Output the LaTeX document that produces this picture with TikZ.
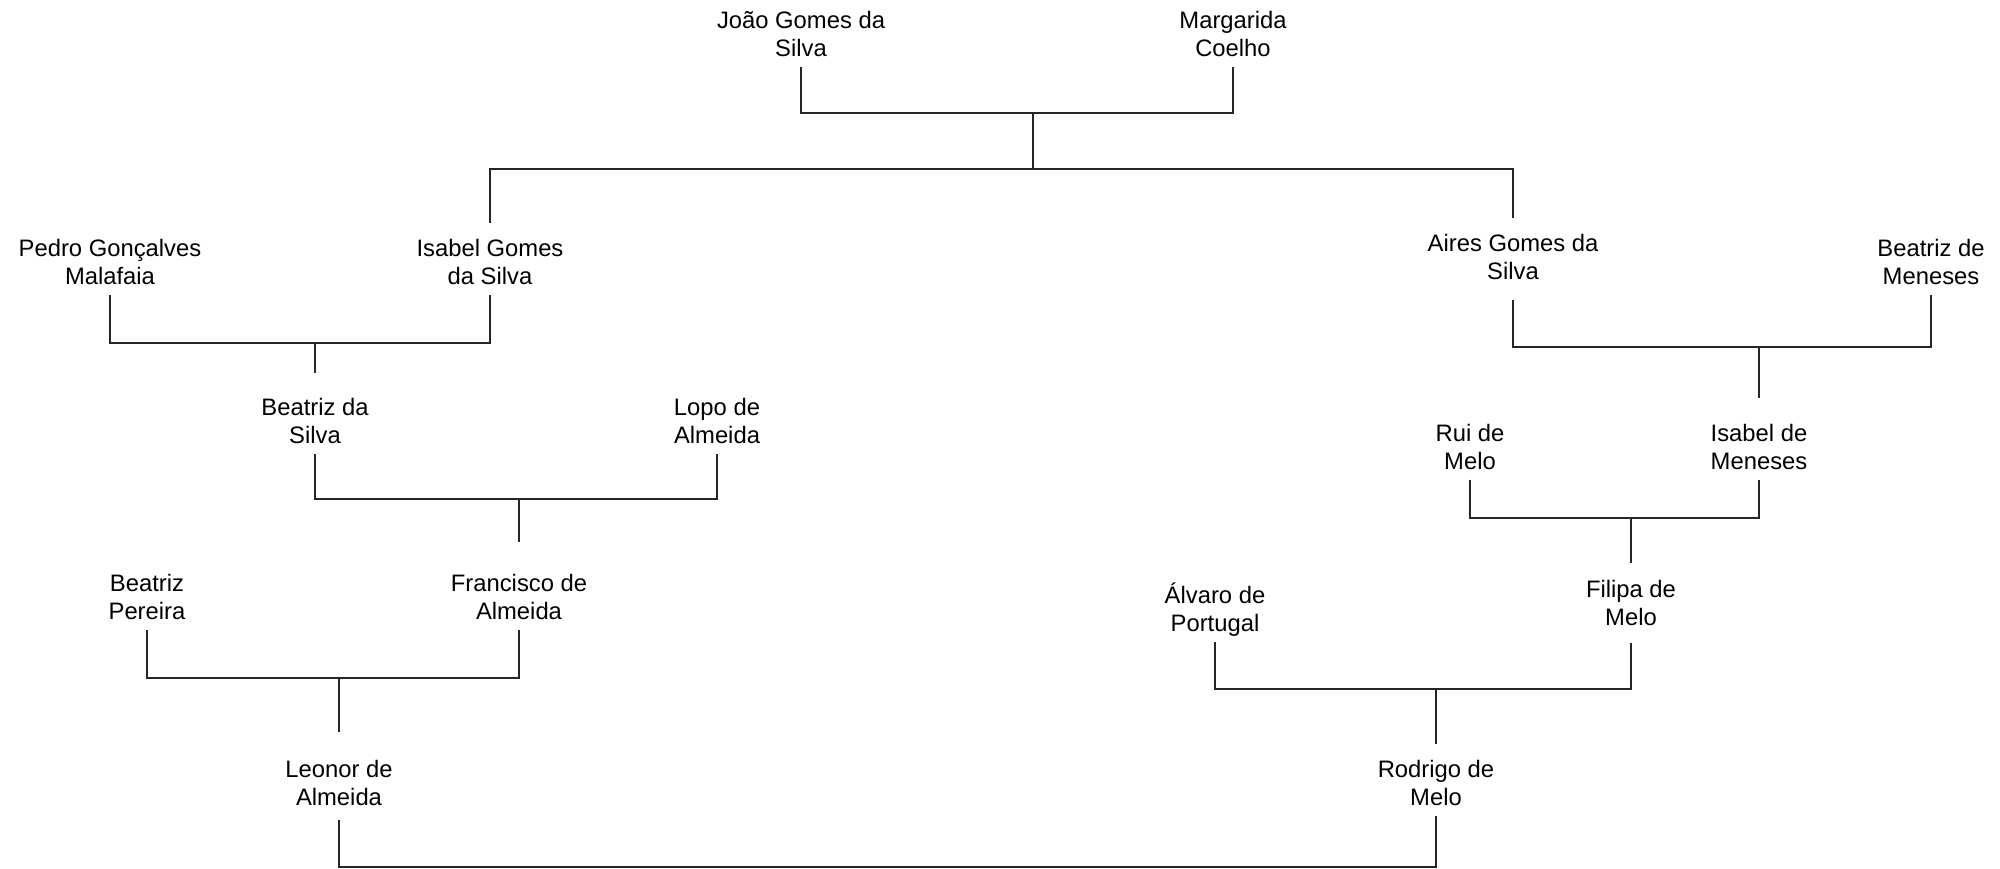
\documentclass[tikz,border=0pt]{standalone}
\usepackage{fontspec}
\setmainfont{Liberation Sans}
\tikzset{
  every picture/.style={line width=0.55pt},
  person/.style={align=center, inner xsep=0pt, inner ysep=2.5pt, text height=28pt, text depth=2.5pt, font=\fontsize{11.9}{14}\selectfont},
  link/.style={draw=black!85, line width=0.55pt},
}
\begin{document}
\begin{tikzpicture}[x=0.5pt, y=-0.5pt]
  \useasboundingbox (0,0) rectangle (2000,868);
  % people
  \node[person] (joao)      at (801,30.5)  {João Gomes da\\Silva};
  \node[person] (margarida) at (1233,30.5) {Margarida\\Coelho};
  \node[person] (pedro)     at (110,259)   {Pedro Gonçalves\\Malafaia};
  \node[person] (isabelg)   at (490,259)   {Isabel Gomes\\da Silva};
  \node[person] (aires)     at (1513,254)  {Aires Gomes da\\Silva};
  \node[person] (beatrizm)  at (1931,259)  {Beatriz de\\Meneses};
  \node[person] (beatrizs)  at (315,417.5) {Beatriz da\\Silva};
  \node[person] (lopo)      at (717,417.5) {Lopo de\\Almeida};
  \node[person] (rui)       at (1470,443.5) {Rui de\\Melo};
  \node[person] (isabelm)   at (1759,443.5) {Isabel de\\Meneses};
  \node[person] (beatrizp)  at (147,594)   {Beatriz\\Pereira};
  \node[person] (francisco) at (519,594)   {Francisco de\\Almeida};
  \node[person] (alvaro)    at (1215,605.5) {Álvaro de\\Portugal};
  \node[person] (filipa)    at (1631,599.5) {Filipa de\\Melo};
  \node[person] (leonor)    at (339,780)   {Leonor de\\Almeida};
  \node[person] (rodrigo)   at (1436,780)  {Rodrigo de\\Melo};
  % couple bars
  \coordinate (c1) at (1033,113);
  \coordinate (k1) at (1033,169);
  \coordinate (c2) at (315,343);
  \coordinate (c3) at (1759,347);
  \coordinate (c4) at (519,499);
  \coordinate (c5) at (1631,518);
  \coordinate (c6) at (339,678);
  \coordinate (c7) at (1436,689);
  \draw[link] (joao.south) |- (c1) -| (margarida.south);
  \draw[link] (c1) -- (k1);
  \draw[link] (isabelg.north) |- (k1) -| (aires.north);
  \draw[link] (pedro.south) |- (c2) -| (isabelg.south);
  \draw[link, shorten >=4pt] (c2) -- (beatrizs.north);
  \draw[link, shorten <=5pt] (aires.south) |- (c3) -| (beatrizm.south);
  \draw[link, shorten >=4.5pt] (c3) -- (isabelm.north);
  \draw[link] (beatrizs.south) |- (c4) -| (lopo.south);
  \draw[link, shorten >=8pt] (c4) -- (francisco.north);
  \draw[link] (rui.south) |- (c5) -| (isabelm.south);
  \draw[link] (c5) -- (filipa.north);
  \draw[link] (beatrizp.south) |- (c6) -| (francisco.south);
  \draw[link, shorten >=6pt] (c6) -- (leonor.north);
  \draw[link, shorten <=3.5pt] (filipa.south) |- (c7) -| (alvaro.south);
  \draw[link] (c7) -- (rodrigo.north);
  \draw[link, shorten <=2pt] (leonor.south) |- (1000,867) -| (rodrigo.south);
\end{tikzpicture}
\end{document}
